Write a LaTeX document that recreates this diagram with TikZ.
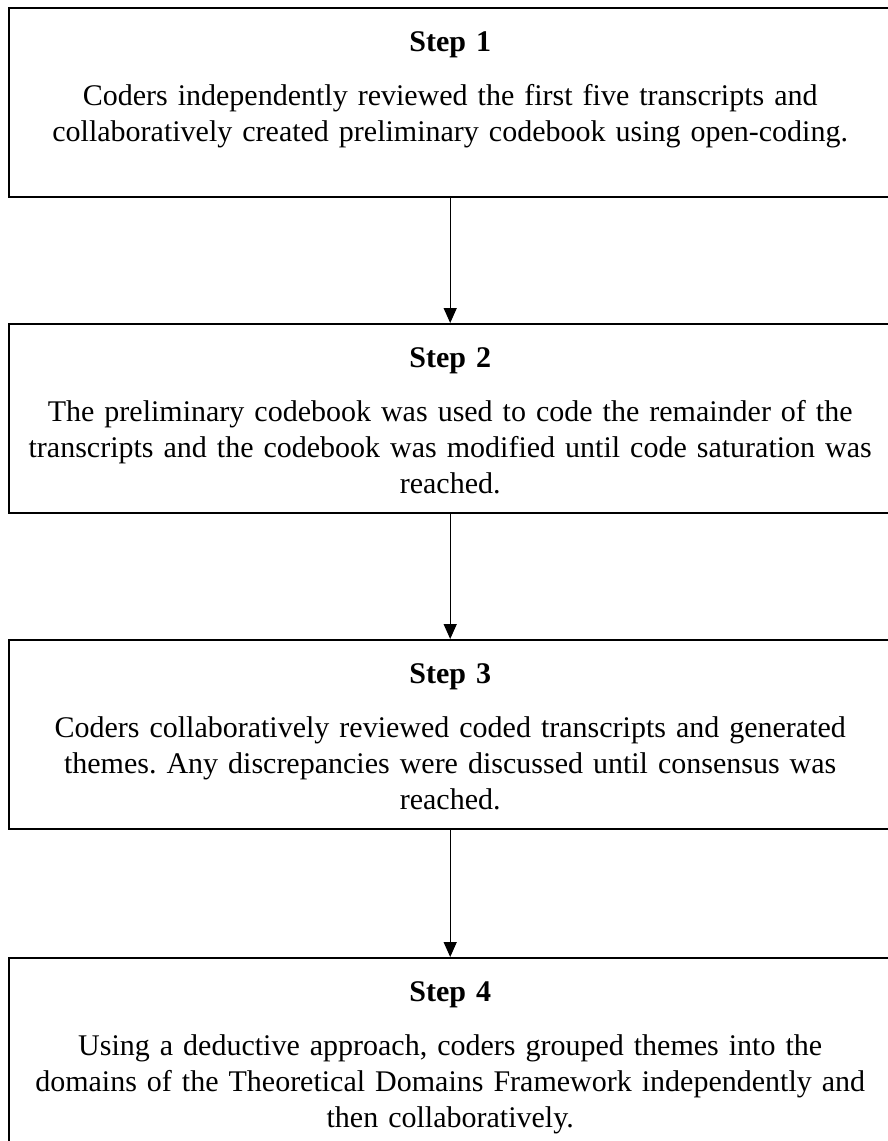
\documentclass[tikz,border=0pt]{standalone}
\usepackage{fontspec}
\setmainfont{Liberation Serif}
\usetikzlibrary{arrows.meta,positioning}
\frenchspacing

\tikzset{
  stepbox/.style={draw,line width=1.2pt,minimum width=441pt,minimum height=94.5pt,
                  inner sep=0pt,anchor=north west},
  steptext/.style={text width=436pt,align=center,inner sep=0pt,anchor=north,
                   font=\fontsize{15}{18}\selectfont},
  flow/.style={-{Triangle[length=7.5pt,width=6.5pt]},line width=0.7pt}
}

\begin{document}
\begin{tikzpicture}[x=0.5pt,y=-0.5pt]
  \useasboundingbox (0,0) rectangle (888,1141);
  % boxes
  \node[stepbox] (s1) at (8,7) {};
  \node[stepbox] (s2) at (8,323) {};
  \node[stepbox] (s3) at (8,639) {};
  \node[stepbox,minimum height=100pt] (s4) at (8,957) {};
  % texts
  \node[steptext] (t1) at ([yshift=-12pt]s1.north) {\textbf{Step 1}\\[9pt]
    Coders independently reviewed the first five transcripts and\\
    collaboratively created preliminary codebook using open-coding.};
  \node[steptext] (t2) at ([yshift=-12pt]s2.north) {\textbf{Step 2}\\[9pt]
    The preliminary codebook was used to code the remainder of the\\
    transcripts and the codebook was modified until code saturation was\\
    reached.};
  \node[steptext] (t3) at ([yshift=-12pt]s3.north) {\textbf{Step 3}\\[9pt]
    Coders collaboratively reviewed coded transcripts and generated\\
    themes. Any discrepancies were discussed until consensus was\\
    reached.};
  \node[steptext] (t4) at ([yshift=-12pt]s4.north) {\textbf{Step 4}\\[9pt]
    Using a deductive approach, coders grouped themes into the\\
    domains of the Theoretical Domains Framework independently and\\
    then collaboratively.};
  % arrows
  \draw[flow] (s1.south) -- (s2.north);
  \draw[flow] (s2.south) -- (s3.north);
  \draw[flow] (s3.south) -- (s4.north);
\end{tikzpicture}
\end{document}
